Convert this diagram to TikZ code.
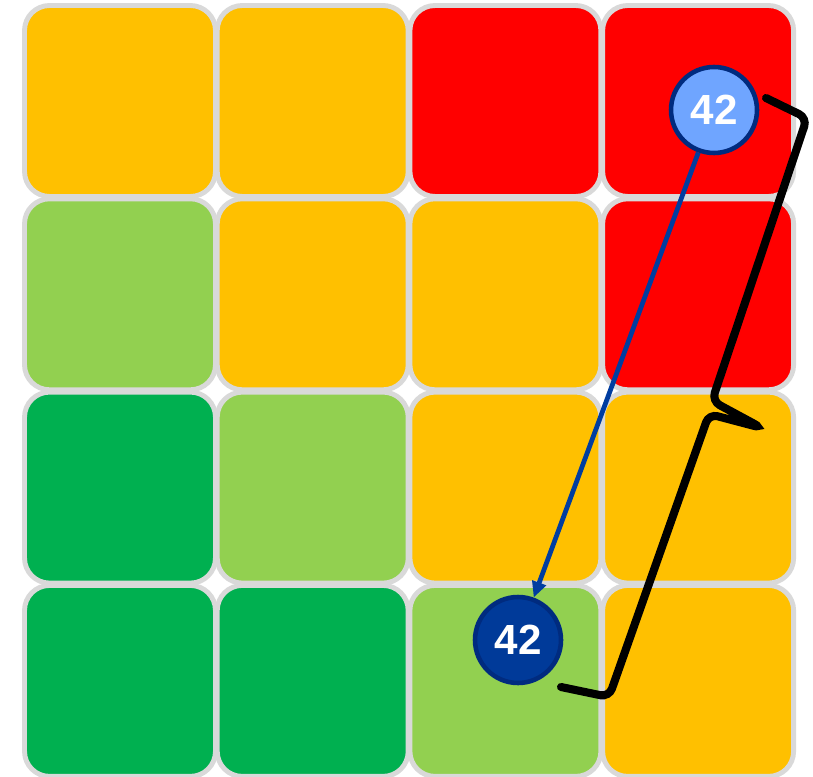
\documentclass[tikz,border=0pt]{standalone}
\usepackage{fontspec}
\newfontfamily\numfont{Liberation Sans}
\usetikzlibrary{arrows.meta,positioning}
\definecolor{cello}{HTML}{FFC000}
\definecolor{cellr}{HTML}{FF0000}
\definecolor{celllg}{HTML}{92D050}
\definecolor{cellg}{HTML}{00B050}
\definecolor{cellgray}{HTML}{D9D9D9}
\definecolor{markerlight}{HTML}{6FA5FF}
\definecolor{markerdark}{HTML}{003A99}
\definecolor{markerline}{HTML}{002B7F}
\definecolor{movecolor}{HTML}{003DA0}

\begin{document}
\begin{tikzpicture}[x=0.02cm,y=-0.02cm,
    cell/.style={draw=cellgray,line width=2.8pt,rounded corners=0.5cm,minimum size=3.82cm,inner sep=0pt},
    marker/.style={circle,draw=markerline,line width=2.6pt,minimum size=1.72cm,inner sep=0pt,text=white,font=\numfont\bfseries\fontsize{24}{24}\selectfont},
    move/.style={movecolor,line width=2.7pt,-{Triangle[length=9pt,width=8pt]}},
    bracket/.style={black,line width=4.6pt,line cap=round,rounded corners=5pt}]
\useasboundingbox (0,0) rectangle (813,776);

% risk grid
\foreach \c [count=\k from 0] in {o,o,r,r,lg,o,o,r,g,lg,o,o,g,g,lg,o} {
    \pgfmathtruncatemacro\i{mod(\k,4)}
    \pgfmathtruncatemacro\j{div(\k,4)}
    \node[cell,fill=cell\c] (C\j\i) at (120+192.7*\i, 101+193.3*\j) {};
}

% markers
\node[marker,fill=markerlight] (start) at (714,110) {42};
\node[marker,fill=markerdark] (goal) at (518,640) {42};
\draw[move] (start) -- (goal);

% brace
\draw[bracket] (561,687) -- (609,697) -- (709,414) -- (762,428) -- (712,401) -- (807,118) -- (766,98);
\end{tikzpicture}
\end{document}
